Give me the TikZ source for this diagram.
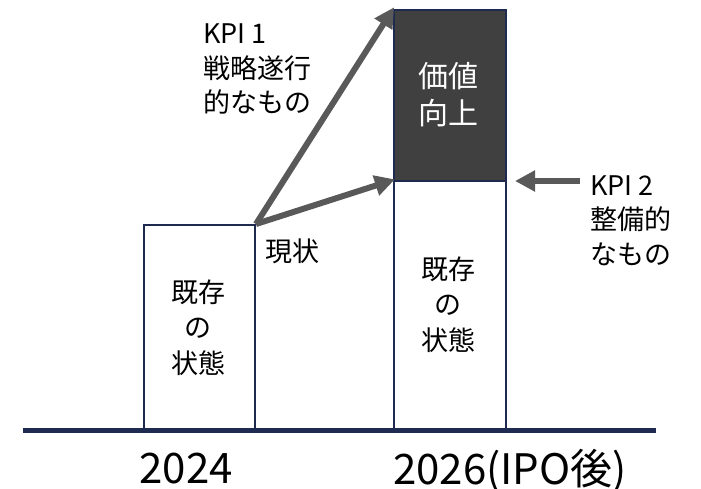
\documentclass[tikz,border=0pt]{standalone}
\usepackage{fontspec}
\setmainfont{Noto Sans CJK JP}
\usetikzlibrary{arrows.meta}
\definecolor{navy}{HTML}{1F2A50}
\definecolor{darkfill}{HTML}{404040}
\definecolor{arrowgray}{HTML}{595959}
\tikzset{
  barbox/.style={draw=navy, line width=2pt, inner sep=0pt, anchor=north west},
  bigarrow/.style={draw=arrowgray, line width=6pt, -{Triangle[length=20pt,width=20pt]}, shorten >=-2pt},
  lbl/.style={inner sep=0pt, font=\fontsize{27}{34.5}\selectfont, align=left},
  clbl/.style={inner sep=0pt, font=\fontsize{27}{35.5}\selectfont, align=center},
  yearlbl/.style={inner sep=0pt, font=\fontsize{42}{50}\selectfont, anchor=base}
}
\begin{document}
\begin{tikzpicture}[x=1pt,y=-1pt]
\useasboundingbox[fill=white] (0,0) rectangle (701,489);
% boxes
\node[barbox, fill=white, minimum width=111pt, minimum height=205pt] (b1) at (143,224) {};
\node[barbox, fill=white, minimum width=112pt, minimum height=249pt] (b2) at (393,180) {};
\node[barbox, fill=darkfill, minimum width=112pt, minimum height=171pt] (b3) at (393,9) {};
% axis
\coordinate (axL) at (23,430.5);
\coordinate (axR) at (656,430.5);
\draw[navy, line width=5pt] (axL) -- (axR);
% arrows
\draw[bigarrow] (b1.north east) -- (b3.north west);
\draw[bigarrow] (b1.north east) -- (b2.north west);
\coordinate (k2s) at (580,181);
\coordinate (k2e) at (515,181);
\draw[bigarrow, shorten >=0pt] (k2s) -- (k2e);
% texts (base anchor = baseline of last line)
\node[lbl, anchor=base west] (kpi1) at (203,113) {KPI 1\\戦略遂行\\的なもの};
\node[lbl, anchor=base west] (kpi2) at (590,264) {KPI 2\\整備的\\なもの};
\node[lbl, anchor=base west] (now) at (265,261) {現状};
\node[clbl, anchor=base, text=white, font=\fontsize{30}{37}\selectfont] (val) at (448,125) {価値\\向上};
\node[clbl, anchor=base] (t1) at (198,373) {既存\\の\\状態};
\node[clbl, anchor=base] (t2) at (448,350) {既存\\の\\状態};
\node[yearlbl] (y1) at (186,483) {2024};
\node[yearlbl] (y2) at (510,484) {2026(IPO後)};
\end{tikzpicture}
\end{document}
